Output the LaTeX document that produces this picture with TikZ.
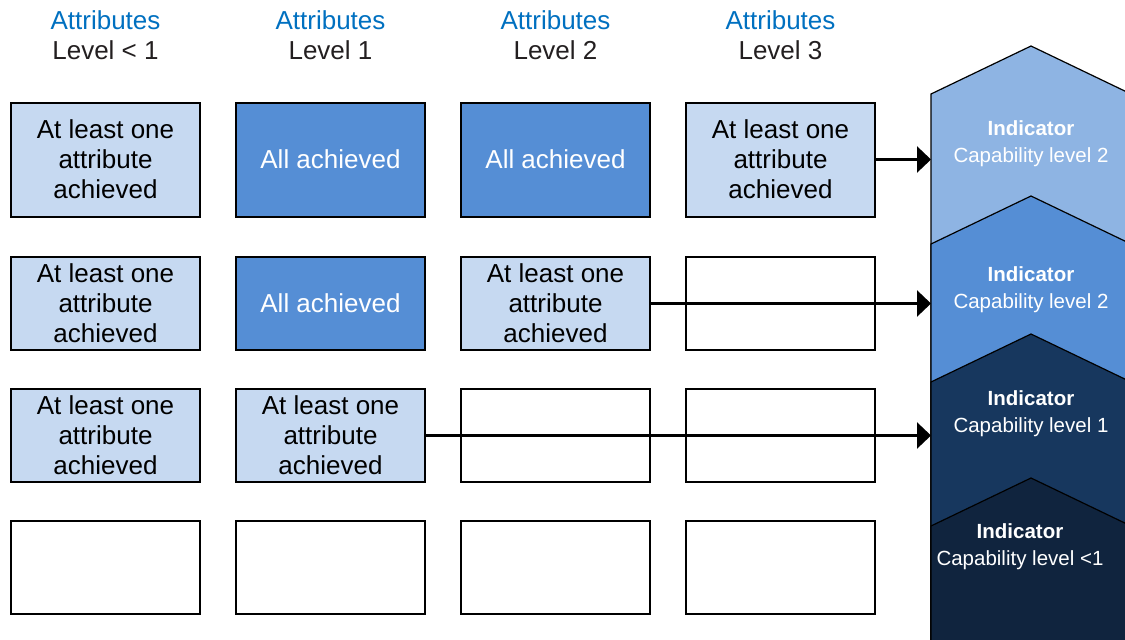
\documentclass[tikz,border=0pt]{standalone}
\usepackage{fontspec}
\setmainfont{Liberation Sans}
\usetikzlibrary{arrows.meta,positioning}
\definecolor{attrblue}{HTML}{0070C0}
\definecolor{headgrey}{HTML}{231F20}
\definecolor{partfill}{HTML}{C6D9F1}
\definecolor{fullfill}{HTML}{558ED5}
\definecolor{chevA}{HTML}{8EB4E3}
\definecolor{chevB}{HTML}{558ED5}
\definecolor{chevC}{HTML}{17375E}
\definecolor{chevD}{HTML}{10243E}
\newcommand\oneattr{At least one\\attribute\\achieved}

\begin{document}
\begin{tikzpicture}[x=1pt,y=-1pt,
  cell/.style={draw,line width=2pt,minimum width=189pt,minimum height=93pt,inner sep=0pt,align=center,font=\fontsize{26}{30}\selectfont},
  part/.style={cell,fill=partfill},
  full/.style={cell,fill=fullfill,text=white},
  tall/.style={minimum height=114pt},
  head/.style={align=center,text=headgrey,font=\fontsize{26}{30}\selectfont},
  chev/.style={draw,line width=1.2pt},
  ind/.style={align=center,text=white,font=\fontsize{20.5}{27}\selectfont},
  arr/.style={line width=2.5pt,-{Triangle[length=14pt,width=26pt]}}]
\useasboundingbox (0,0) rectangle (1125,640);

\node[head] (h1) at (105.5,35) {\textcolor{attrblue}{Attributes}\\Level < 1};
\node[head] (h2) at (330.5,35) {\textcolor{attrblue}{Attributes}\\Level 1};
\node[head] (h3) at (555.5,35) {\textcolor{attrblue}{Attributes}\\Level 2};
\node[head] (h4) at (780.5,35) {\textcolor{attrblue}{Attributes}\\Level 3};

\node[part,tall] (b11) at (105.5,159.5) {\oneattr};
\node[full,tall] (b12) at (330.5,159.5) {All achieved};
\node[full,tall] (b13) at (555.5,159.5) {All achieved};
\node[part,tall] (b14) at (780.5,159.5) {\oneattr};

\node[part] (b21) at (105.5,303.5) {\oneattr};
\node[full] (b22) at (330.5,303.5) {All achieved};
\node[part] (b23) at (555.5,303.5) {\oneattr};
\node[cell] (b24) at (780.5,303.5) {};

\node[part] (b31) at (105.5,435.5) {\oneattr};
\node[part] (b32) at (330.5,435.5) {\oneattr};
\node[cell] (b33) at (555.5,435.5) {};
\node[cell] (b34) at (780.5,435.5) {};

\foreach \c/\x in {1/105.5,2/330.5,3/555.5,4/780.5}
  \node[cell] (b4\c) at (\x,567) {};

\foreach \apex/\col in {46/chevA,196/chevB,334/chevC,478/chevD}
  \draw[chev,fill=\col] (931,\apex+48) -- (1031,\apex) -- (1131,\apex+48) -- (1131,660) -- (931,660) -- cycle;

\node[ind] (i1) at (1031,143.5) {\textbf{Indicator}\\Capability level 2};
\node[ind] (i2) at (1031,290) {\textbf{Indicator}\\Capability level 2};
\node[ind] (i3) at (1031,413.5) {\textbf{Indicator}\\Capability level 1};
\node[ind] (i4) at (1020,546.5) {\textbf{Indicator}\\Capability level <1};

\coordinate (edge) at (931,0);
\draw[arr] (b14.east) -- (b14.east -| edge);
\draw[arr] (b23.east) -- (b23.east -| edge);
\draw[arr] (b32.east) -- (b32.east -| edge);
\end{tikzpicture}
\end{document}
